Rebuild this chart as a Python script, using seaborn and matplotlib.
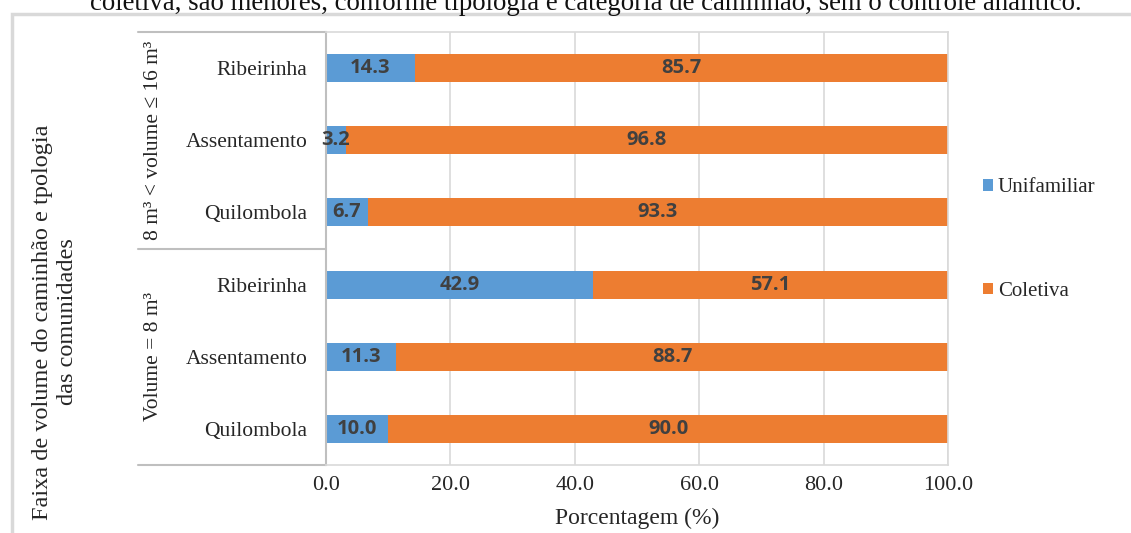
import matplotlib
matplotlib.use("Agg")
import matplotlib.pyplot as plt
from matplotlib.patches import Rectangle, Patch
import seaborn as sns
import pandas as pd

# Data: share of households (%) by truck volume band and community type
groups = ["8 m³ < volume ≤ 16 m³"] * 3 + ["Volume = 8 m³"] * 3
communities = ["Ribeirinha", "Assentamento", "Quilombola",
               "Ribeirinha", "Assentamento", "Quilombola"]
unifamiliar = [14.3, 3.2, 6.7, 42.9, 11.3, 10.0]
coletiva = [85.7, 96.8, 93.3, 57.1, 88.7, 90.0]
x_ticks = [0, 20, 40, 60, 80, 100]

BLUE = "#5B9BD5"
ORANGE = "#ED7D31"
LABEL_GRAY = "#404040"
GRID = "#D9D9D9"
AXIS_GRAY = "#BFBFBF"
TEXT = "#262626"

sns.set_theme(style="white")
plt.rcParams["font.family"] = ["Liberation Serif", "DejaVu Serif"]

rows = [f"{g}|{c}" for g, c in zip(groups, communities)]
df = pd.DataFrame({
    "row": rows,
    "Unifamiliar": unifamiliar,
    "Coletiva": coletiva,
})
df["total"] = df["Unifamiliar"] + df["Coletiva"]

W, H = 1131, 533
fig = plt.figure(figsize=(W / 100, H / 100), dpi=100)
ax = fig.add_axes([326 / W, 1 - 465 / H, (948 - 326) / W, (465 - 32) / H])

# stacked bars: full length (unifamiliar + coletiva) first, unifamiliar on top
sns.barplot(data=df, x="total", y="row", order=rows, color=ORANGE,
            saturation=1, width=0.39, ax=ax, orient="h")
sns.barplot(data=df, x="Unifamiliar", y="row", order=rows, color=BLUE,
            saturation=1, width=0.39, ax=ax, orient="h")
for p in ax.patches:
    p.set_edgecolor("none")

ax.set_xlim(0, 100)
ax.set_ylim(len(rows) - 0.5, -0.5)
ax.set_xticks(x_ticks)
ax.set_xticklabels([f"{v:.1f}" for v in x_ticks], fontsize=16, color=TEXT)
ax.set_yticks(range(len(rows)))
ax.set_yticklabels(communities, fontsize=15.5, color=TEXT)
ax.tick_params(axis="x", length=0, pad=8)
ax.tick_params(axis="y", length=0, pad=13.5)
ax.set_xlabel("Porcentagem (%)", fontsize=17, color=TEXT, labelpad=9)
ax.set_ylabel("")

ax.grid(axis="x", color=GRID, linewidth=1.2)
ax.set_axisbelow(True)
for side in ["top", "right", "bottom"]:
    ax.spines[side].set_color(GRID)
    ax.spines[side].set_linewidth(1.2)
ax.spines["left"].set_color(AXIS_GRAY)
ax.spines["left"].set_linewidth(1.5)

# value labels centred in each segment
for i, (u, c) in enumerate(zip(unifamiliar, coletiva)):
    ax.text(u / 2, i, f"{u:.1f}", ha="center", va="center",
            fontsize=14.5, fontweight="bold", color=LABEL_GRAY,
            family=["Open Sans", "DejaVu Sans"])
    ax.text(u + c / 2, i, f"{c:.1f}", ha="center", va="center",
            fontsize=14.5, fontweight="bold", color=LABEL_GRAY,
            family=["Open Sans", "DejaVu Sans"])

# multi-level category axis: separators and group labels
x_left = (138 - 326) / (948 - 326)
for yv in [1.0, 0.5, 0.0]:
    ax.plot([x_left, 0], [yv, yv], transform=ax.transAxes, clip_on=False,
            color=AXIS_GRAY, linewidth=1.5)
x_grp = (154 - 326) / (948 - 326)
ax.text(x_grp, 0.75, "8 m³ < volume ≤ 16 m³", transform=ax.transAxes,
        rotation=90, ha="center", va="center", fontsize=15.5, color=TEXT)
ax.text(x_grp, 0.25, "Volume = 8 m³", transform=ax.transAxes,
        rotation=90, ha="center", va="center", fontsize=15.5, color=TEXT)

fig.text(55 / W, 1 - 322 / H,
         "Faixa de volume do caminhão e tpologia\ndas comunidades",
         rotation=90, ha="center", va="center", fontsize=17.5,
         color=TEXT, linespacing=1.3, multialignment="center")

# legend
handles = [Patch(facecolor=BLUE, edgecolor="none"),
           Patch(facecolor=ORANGE, edgecolor="none")]
fig.legend(handles, ["Unifamiliar", "Coletiva"], loc="upper left",
           bbox_to_anchor=(973 / W, 1 - 168 / H), frameon=False,
           fontsize=15, handlelength=0.45, handleheight=0.45,
           handletextpad=0.25, labelspacing=4.05, borderpad=0,
           labelcolor=TEXT)

# outer frame and running text above the chart
fig.add_artist(Rectangle((12 / W, -0.1), 1.2, 1.1 - 14 / H,
                         transform=fig.transFigure, fill=False,
                         edgecolor=GRID, linewidth=2.5))
fig.text(586 / W, 1 - 9.5 / H,
         "coletiva, são menores, conforme tipologia e categoria de caminhão, sem o controle analítico.",
         ha="center", va="baseline", fontsize=19.3, color="#111111")

fig.savefig("out.png", dpi=100)
